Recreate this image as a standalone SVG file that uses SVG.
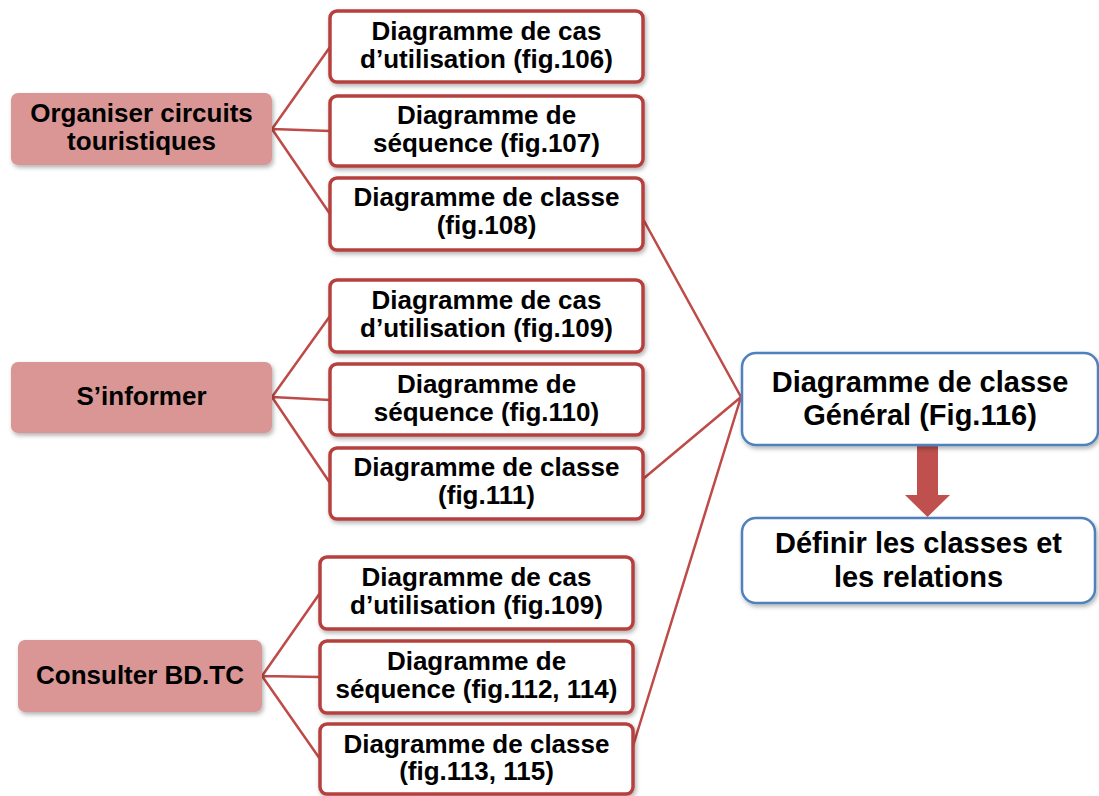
<svg xmlns="http://www.w3.org/2000/svg" width="1099" height="796" viewBox="0 0 1099 796">
<defs>
<filter id="sh" x="-10%" y="-10%" width="125%" height="135%">
<feDropShadow dx="1.5" dy="2.5" stdDeviation="2" flood-color="#000" flood-opacity="0.3"/>
</filter>
<style>
.pink{fill:#D99694;stroke:none;filter:url(#sh)}
.sub{fill:#fff;stroke:#B5403D;stroke-width:3.5;filter:url(#sh)}
.blue{fill:#fff;stroke:#4F81BD;stroke-width:2.5;filter:url(#sh)}
text{font-family:"Liberation Sans",Arial,sans-serif;font-weight:bold;fill:#000;text-anchor:middle}
.t{font-size:26px}
.b{font-size:29px}
.con{stroke:#BE4B48;stroke-width:2.5;fill:none}
</style>
</defs>
<rect width="1099" height="796" fill="#fff"/>
<g id="connectors">
<path class="con" d="M272 129 L330 47 M272 129 L330 131 M272 129 L330 214"/>
<path class="con" d="M272 397 L330 316 M272 397 L330 400 M272 397 L330 483"/>
<path class="con" d="M262 676 L320 593 M262 676 L320 677 M262 676 L320 759"/>
<path class="con" d="M643 219 L741 397 M643 479 L741 397 M633 746 L741 397"/>
<path d="M917 446 L938 446 L938 495 L950 495 L927.5 517 L905 495 L917 495 Z" fill="#C0504D"/>
</g>
<g id="n_org">
<rect class="pink" x="11" y="93" width="261" height="72" rx="7"/>
<text class="t" x="141.5" y="122">Organiser circuits</text>
<text class="t" x="141.5" y="150">touristiques</text>
</g>
<g id="n_org_cas">
<rect class="sub" x="330" y="11" width="313" height="71" rx="7"/>
<text class="t" x="486.5" y="40">Diagramme de cas</text>
<text class="t" x="486.5" y="68">d’utilisation (fig.106)</text>
</g>
<g id="n_org_seq">
<rect class="sub" x="330" y="96" width="313" height="70" rx="7"/>
<text class="t" x="486.5" y="124">Diagramme de</text>
<text class="t" x="486.5" y="152">séquence (fig.107)</text>
</g>
<g id="n_org_cls">
<rect class="sub" x="330" y="178" width="313" height="72" rx="7"/>
<text class="t" x="486.5" y="206">Diagramme de classe</text>
<text class="t" x="486.5" y="234">(fig.108)</text>
</g>
<g id="n_inf">
<rect class="pink" x="11" y="362" width="261" height="71" rx="7"/>
<text class="t" x="141.5" y="405">S’informer</text>
</g>
<g id="n_inf_cas">
<rect class="sub" x="330" y="280" width="313" height="72" rx="7"/>
<text class="t" x="486.5" y="309">Diagramme de cas</text>
<text class="t" x="486.5" y="337">d’utilisation (fig.109)</text>
</g>
<g id="n_inf_seq">
<rect class="sub" x="330" y="364" width="313" height="71" rx="7"/>
<text class="t" x="486.5" y="393">Diagramme de</text>
<text class="t" x="486.5" y="421">séquence (fig.110)</text>
</g>
<g id="n_inf_cls">
<rect class="sub" x="330" y="448" width="313" height="71" rx="7"/>
<text class="t" x="486.5" y="476">Diagramme de classe</text>
<text class="t" x="486.5" y="504">(fig.111)</text>
</g>
<g id="n_bd">
<rect class="pink" x="18" y="640" width="244" height="72" rx="7"/>
<text class="t" x="140" y="684">Consulter BD.TC</text>
</g>
<g id="n_bd_cas">
<rect class="sub" x="320" y="557" width="313" height="72" rx="7"/>
<text class="t" x="476.5" y="586">Diagramme de cas</text>
<text class="t" x="476.5" y="614">d’utilisation (fig.109)</text>
</g>
<g id="n_bd_seq">
<rect class="sub" x="320" y="641" width="313" height="72" rx="7"/>
<text class="t" x="476.5" y="670">Diagramme de</text>
<text class="t" x="476.5" y="698">séquence (fig.112, 114)</text>
</g>
<g id="n_bd_cls">
<rect class="sub" x="320" y="724" width="313" height="70" rx="7"/>
<text class="t" x="476.5" y="753">Diagramme de classe</text>
<text class="t" x="476.5" y="780">(fig.113, 115)</text>
</g>
<g id="n_gen">
<rect class="blue" x="742" y="353" width="356" height="92" rx="14"/>
<text class="b" x="920" y="392">Diagramme de classe</text>
<text class="b" x="920" y="425">Général (Fig.116)</text>
</g>
<g id="n_def">
<rect class="blue" x="742" y="518" width="353" height="85" rx="14"/>
<text class="b" x="918.5" y="553">Définir les classes et</text>
<text class="b" x="918.5" y="587">les relations</text>
</g>
</svg>
